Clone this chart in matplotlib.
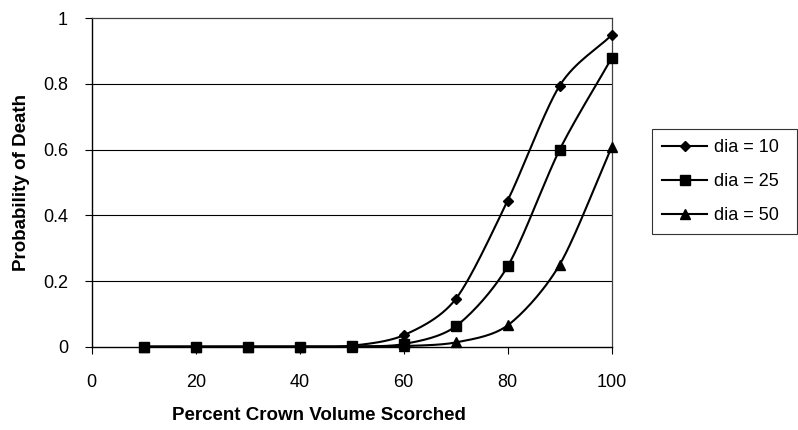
import numpy as np
import matplotlib.pyplot as plt

plt.rcParams['font.family'] = ['Liberation Sans', 'DejaVu Sans']

# percent crown volume scorched
scorch = [10, 20, 30, 40, 50, 60, 70, 80, 90, 100]

# probability of death for three stem diameters
p_dia10 = [0, 0, 0, 0, 0.003, 0.035, 0.145, 0.445, 0.795, 0.949]
p_dia25 = [0, 0, 0, 0, 0.001, 0.008, 0.062, 0.245, 0.60, 0.879]
p_dia50 = [0, 0, 0, 0, 0.0, 0.002, 0.013, 0.065, 0.25, 0.608]

series_labels = ['dia = 10', 'dia = 25', 'dia = 50']
series_markers = ['D', 's', '^']
marker_sizes = [5.4, 7.2, 7.8]


def smooth(x, y, n=30):
    """Catmull-Rom style smoothing through the points, like spreadsheet smoothed lines."""
    x = np.asarray(x, float)
    y = np.asarray(y, float)
    px = np.concatenate([[2 * x[0] - x[1]], x, [2 * x[-1] - x[-2]]])
    py = np.concatenate([[2 * y[0] - y[1]], y, [2 * y[-1] - y[-2]]])
    xs, ys = [], []
    t = np.linspace(0, 1, n)
    for i in range(1, len(px) - 2):
        for arr, out in ((px, xs), (py, ys)):
            p0, p1, p2, p3 = arr[i - 1], arr[i], arr[i + 1], arr[i + 2]
            m1 = (p2 - p0) / 2 * 0.85
            m2 = (p3 - p1) / 2 * 0.85
            h00 = 2 * t**3 - 3 * t**2 + 1
            h10 = t**3 - 2 * t**2 + t
            h01 = -2 * t**3 + 3 * t**2
            h11 = t**3 - t**2
            out.extend(h00 * p1 + h10 * m1 + h01 * p2 + h11 * m2)
    return np.array(xs), np.array(ys)


fig = plt.figure(figsize=(7.98, 4.30), dpi=100)
ax = fig.add_axes([91.7 / 798, 83.3 / 430, 520 / 798, 328.4 / 430])

for yv in [0.2, 0.4, 0.6, 0.8]:
    ax.axhline(yv, color='black', linewidth=0.8, zorder=1)

handles = []
for vals, lab, mk, ms in zip([p_dia10, p_dia25, p_dia50], series_labels,
                             series_markers, marker_sizes):
    sx, sy = smooth(scorch, vals)
    ax.plot(sx, sy, color='black', linewidth=1.5, zorder=2)
    ax.plot(scorch, vals, linestyle='none', marker=mk, color='black',
            markersize=ms, zorder=3, clip_on=False)
    h, = ax.plot([], [], color='black', linewidth=1.5, marker=mk, markersize=ms)
    handles.append(h)

ax.set_xlim(0, 100)
ax.set_ylim(0, 1)
ax.set_xticks(range(0, 101, 20))
ax.set_yticks([0, 0.2, 0.4, 0.6, 0.8, 1])
ax.set_yticklabels(['0', '0.2', '0.4', '0.6', '0.8', '1'])
ax.tick_params(axis='both', labelsize=13, length=5, width=0.8, direction='out')
ax.tick_params(axis='y', pad=12)
ax.tick_params(axis='x', pad=15)

for side in ['left', 'bottom']:
    ax.spines[side].set_color('black')
    ax.spines[side].set_linewidth(1.0)
for side in ['top', 'right']:
    ax.spines[side].set_color('#404040')
    ax.spines[side].set_linewidth(0.9)

ax.set_xlabel('Percent Crown Volume Scorched', fontsize=13.5, fontweight='bold')
ax.xaxis.set_label_coords(0.437, -0.185)
ax.set_ylabel('Probability of Death', fontsize=13.5, fontweight='bold', labelpad=9)

leg = fig.legend(handles=handles, labels=series_labels, loc='upper left',
                 bbox_to_anchor=(652 / 798, 1 - 235 / 430, 145 / 798, 106 / 430),
                 mode='expand', borderaxespad=0, fontsize=13,
                 frameon=True, fancybox=False, edgecolor='black',
                 handlelength=2.5, borderpad=0.55, labelspacing=0.95, handletextpad=0.4)
leg.get_frame().set_linewidth(0.8)

fig.savefig('out.png', dpi=100)
